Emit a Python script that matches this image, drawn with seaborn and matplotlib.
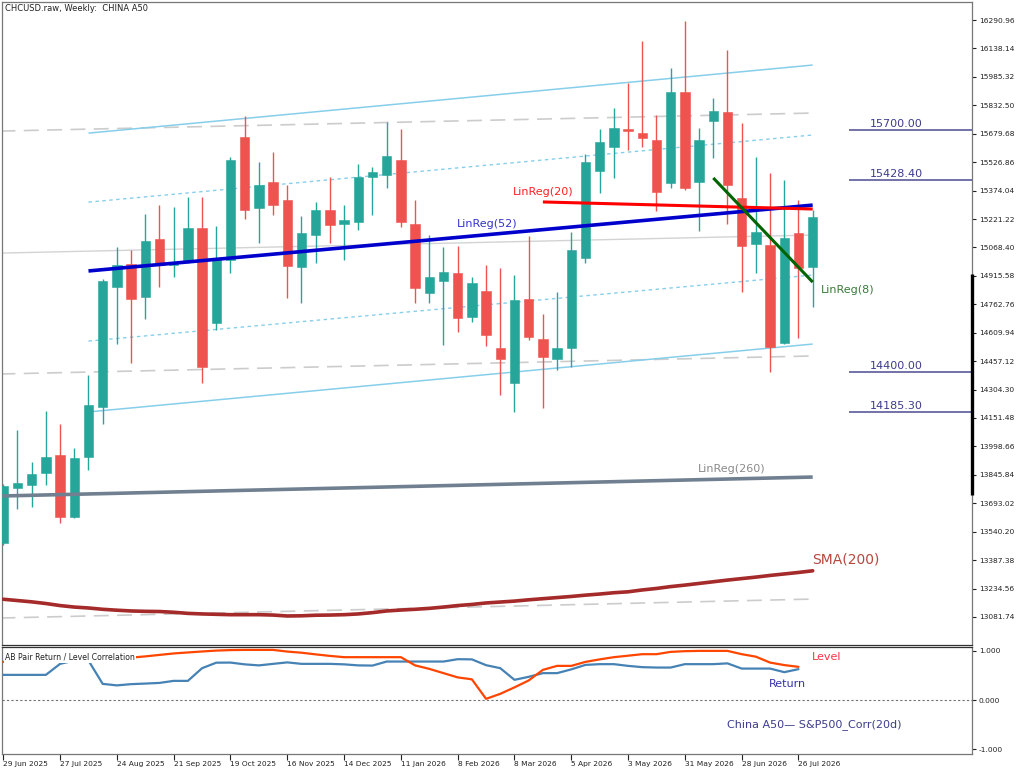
import numpy as np
import pandas as pd
import matplotlib
matplotlib.use("Agg")
import matplotlib.pyplot as plt
import matplotlib.transforms as mtransforms
import seaborn as sns

# ---------------- data ----------------
dates = pd.date_range("2025-06-29", periods=58, freq="7D")
opens = [13479, 13775, 13791, 13856, 13952, 13619, 13942, 14211, 14856, 14979,
         14802, 15114, 14974, 14995, 15173, 14662, 15001, 15662, 15280, 15420,
         15323, 14963, 15135, 15270, 15194, 15205, 15447, 15458, 15538, 15194,
         14823, 14888, 14931, 14694, 14834, 14528, 14340, 14791, 14576, 14469,
         14528, 15012, 15479, 15608, 15705, 15683, 15646, 15415, 15904, 15420,
         15748, 15796, 15334, 15087, 15081, 14555, 15146, 14963]
highs = [13797, 14087, 13915, 14189, 14119, 13990, 14382, 14899, 15071, 15055,
         15248, 15296, 15286, 15339, 15339, 15184, 15554, 15775, 15528, 15581,
         15404, 15237, 15313, 15447, 15296, 15517, 15501, 15743, 15705, 15323,
         15135, 15071, 15076, 14909, 14974, 14958, 14920, 15130, 14710, 14829,
         15151, 15571, 15705, 15818, 15952, 16178, 15780, 16033, 16285, 15710,
         15872, 16130, 15737, 15554, 15468, 15431, 15323, 15270]
lows = [13469, 13662, 13673, 13791, 13587, 13614, 13872, 14119, 14549, 14447,
        14684, 14856, 14909, 14985, 14340, 14624, 14931, 15221, 15092, 15243,
        14796, 14770, 14985, 15092, 15001, 15162, 15243, 15388, 15178, 14770,
        14770, 14544, 14614, 14667, 14538, 14275, 14184, 14571, 14205, 14409,
        14426, 14985, 15361, 15442, 15592, 15608, 15264, 15388, 15377, 15157,
        15549, 15194, 14829, 14931, 14399, 14550, 14581, 14748]
closes = [13786, 13802, 13850, 13942, 13619, 13936, 14221, 14888, 14974, 14791,
          15103, 14974, 14990, 15173, 14426, 15006, 15538, 15270, 15404, 15296,
          14969, 15146, 15270, 15189, 15216, 15447, 15474, 15560, 15205, 14850,
          14909, 14936, 14689, 14877, 14598, 14469, 14786, 14587, 14479, 14528,
          15055, 15528, 15635, 15710, 15694, 15657, 15366, 15904, 15388, 15646,
          15802, 15404, 15076, 15151, 14533, 15119, 14958, 15232]

sma200 = [13177, 13170, 13163, 13154, 13143, 13135, 13130, 13123, 13118, 13114,
          13112, 13111, 13107, 13101, 13098, 13096, 13094, 13094, 13094, 13092,
          13087, 13088, 13091, 13092, 13094, 13098, 13105, 13114, 13119, 13123,
          13128, 13135, 13143, 13149, 13157, 13162, 13167, 13174, 13180, 13186,
          13192, 13199, 13205, 13212, 13217, 13227, 13235, 13245, 13253, 13262,
          13271, 13280, 13288, 13296, 13305, 13313, 13321, 13330]

# regression lines: (start index, end index), (start value, end value)
lr52_idx = [6, 57]
lr52_val = [14942, 15296]
ch_up2_val = [15683, 16049]
ch_up1_val = [15312, 15673]
ch_dn1_val = [14565, 14920]
ch_dn2_val = [14184, 14549]
lr20_idx = [38, 57]
lr20_val = [15313, 15275]
lr8_idx = [50, 57]
lr8_val = [15442, 14882]
full_idx = [-0.2, 57]
lr260_val = [13732, 13834]
gray_mid_val = [15038, 15135]
gray_up_val = [15694, 15791]
gray_dn_val = [14388, 14485]
gray_dn3_val = [13076, 13178]

levels = [15700.00, 15428.40, 14400.00, 14185.30]

corr_level = [0.778, 0.813, 0.82, 0.826, 0.832, 0.836, 0.843, 0.849, 0.857, 0.865,
              0.89, 0.92, 0.95, 0.97, 0.99, 1.008, 1.018, 1.022, 1.022, 1.022,
              0.988, 0.965, 0.931, 0.90, 0.874, 0.874, 0.874, 0.874, 0.874, 0.707,
              0.636, 0.549, 0.463, 0.423, 0.026, 0.128, 0.26, 0.40, 0.616, 0.697,
              0.697, 0.778, 0.829, 0.874, 0.904, 0.935, 0.935, 0.982, 0.996, 1.002,
              1.002, 1.002, 0.935, 0.884, 0.764, 0.713, 0.677]
corr_return = [0.514, 0.514, 0.514, 0.514, 0.738, 0.805, 0.805, 0.331, 0.30, 0.325,
               0.337, 0.35, 0.392, 0.392, 0.65, 0.762, 0.764, 0.728, 0.707, 0.738,
               0.768, 0.738, 0.738, 0.738, 0.728, 0.707, 0.703, 0.785, 0.785, 0.785,
               0.785, 0.785, 0.833, 0.829, 0.711, 0.65, 0.413, 0.474, 0.549, 0.549,
               0.626, 0.717, 0.732, 0.732, 0.697, 0.671, 0.663, 0.663, 0.732, 0.732,
               0.732, 0.748, 0.642, 0.642, 0.642, 0.569, 0.63]

price_ticks = [16290.96 - 152.82 * k for k in range(22)]
corr_ticks = [1.0, 0.0, -1.0]

# ---------------- style ----------------
sns.set_theme(style="white")
plt.rcParams['font.family'] = ['DejaVu Sans']

W, H = 1024, 773
fig = plt.figure(figsize=(W / 100, H / 100), dpi=100)
ax = fig.add_axes([2 / W, 1 - 645 / H, 970 / W, 643 / H])
ax2 = fig.add_axes([2 / W, 1 - 754 / H, 970 / W, 107 / H])

GREEN = "#26A69A"
RED = "#EF5350"

df = pd.DataFrame({"i": np.arange(len(opens)), "open": opens, "high": highs,
                   "low": lows, "close": closes, "sma": sma200})
up = df["close"] >= df["open"]
colors = np.where(up, GREEN, RED)

# background lines first
def seg(a, idx, val, **kw):
    a.plot(idx, val, solid_capstyle="butt", **kw)

seg(ax, full_idx, gray_mid_val, color="#D3D3D3", lw=1.0, zorder=1)
for v in (gray_up_val, gray_dn_val, gray_dn3_val):
    seg(ax, full_idx, v, color="#CCCCCC", lw=1.2, ls=(0, (9, 5)), zorder=1)
for v in (ch_up2_val, ch_dn2_val):
    seg(ax, lr52_idx, v, color="#87CEEB", lw=1.1, zorder=1)
for v in (ch_up1_val, ch_dn1_val):
    seg(ax, lr52_idx, v, color="#87CEEB", lw=1.0, ls=(0, (2.5, 2.5)), zorder=1)

# candles
ax.vlines(df["i"], df["low"], df["high"], colors=colors, lw=1.0, zorder=2)
body_bottom = np.minimum(df["open"], df["close"])
body_h = np.maximum(np.abs(df["close"] - df["open"]), 8)
ax.bar(df["i"], body_h, bottom=body_bottom, width=0.66, color=colors,
       edgecolor=colors, linewidth=0.4, zorder=3)

# indicator lines
sns.lineplot(data=df, x="i", y="sma", ax=ax, color="#A52A2A", lw=2.6,
             legend=False, zorder=4)
seg(ax, full_idx, lr260_val, color="#708090", lw=2.6, zorder=4)
seg(ax, lr52_idx, lr52_val, color="#0000CD", lw=2.6, zorder=5)
seg(ax, lr20_idx, lr20_val, color="#FF0000", lw=2.2, zorder=5)
seg(ax, lr8_idx, lr8_val, color="#006400", lw=2.2, zorder=5)

x_right = 68.22
ax.hlines(levels, 59.56, x_right, colors="#5A5A9A", lw=1.2, zorder=5)
for lv in levels:
    ax.text(61.0, lv + 6, f"{lv:.2f}", color="#3C3C8C", fontsize=8,
            ha="left", va="bottom")

ax.text(31.95, 15194, "LinReg(52)", color="#3333CC", fontsize=8, va="center")
ax.text(35.9, 15366, "LinReg(20)", color="#FF2020", fontsize=8, va="center")
ax.text(57.6, 14839, "LinReg(8)", color="#3A7A3A", fontsize=8, va="center")
ax.text(48.9, 13877, "LinReg(260)", color="#8A8A8A", fontsize=8, va="center")
ax.text(56.95, 13388, "SMA(200)", color="#B5483C", fontsize=10, va="center")
ax.text(0.003, 0.9895, "CHCUSD.raw, Weekly:  CHINA A50", transform=ax.transAxes,
        fontsize=6, va="center", ha="left", color="#222222")

# thick range marker on price axis
trans = mtransforms.blended_transform_factory(ax.transAxes, ax.transData)
ax.plot([1.0, 1.0], [14925, 13737], transform=trans, color="black", lw=2.4,
        clip_on=False, solid_capstyle="butt", zorder=10)

ax.set_xlim(-0.09, x_right)
ax.set_ylim(12931, 16388)
ax.set_xticks([])
ax.set_xlabel("")
ax.set_ylabel("")
ax.yaxis.tick_right()
ax.set_yticks(price_ticks)
ax.set_yticklabels([f"{v:.2f}" for v in price_ticks])
ax.tick_params(axis="y", direction="out", length=3, width=0.8, labelsize=5.4,
               pad=2, colors="#222222", right=True, left=False)

# ---------------- correlation panel ----------------
cdf = pd.DataFrame({"i": np.arange(len(corr_level)), "level": corr_level,
                    "ret": corr_return})
ax2.axhline(0, color="#707070", lw=0.8, ls=(0, (2, 2)), zorder=1)
sns.lineplot(data=cdf, x="i", y="ret", ax=ax2, color="#4682B4", lw=1.6,
             legend=False, zorder=3)
sns.lineplot(data=cdf, x="i", y="level", ax=ax2, color="#FF4500", lw=1.6,
             legend=False, zorder=3)
ax2.text(0.003, 0.905, "AB Pair Return / Level Correlation", transform=ax2.transAxes,
         fontsize=5.6, va="center", ha="left", color="#222222", zorder=6,
         bbox=dict(facecolor="white", edgecolor="none", pad=0.8))
ax2.text(56.95, 0.88, "Level", color="#FF3344", fontsize=8, va="center")
ax2.text(53.9, 0.331, "Return", color="#3333AA", fontsize=8, va="center")
ax2.text(51.0, -0.50, "China A50\u2014 S&P500_Corr(20d)", color="#3C3C8C",
         fontsize=8, va="center")

ax2.set_xlim(-0.09, x_right)
ax2.set_ylim(-1.096, 1.081)
ax2.set_xlabel("")
ax2.set_ylabel("")
ax2.yaxis.tick_right()
ax2.set_yticks(corr_ticks)
ax2.set_yticklabels([f"{v:.3f}" for v in corr_ticks])
tick_idx = list(range(0, 57, 4))
ax2.set_xticks(tick_idx)
ax2.set_xticklabels([f"{dates[k].day} {dates[k]:%b %Y}" for k in tick_idx])
for lab in ax2.get_xticklabels():
    lab.set_ha("left")
ax2.tick_params(axis="x", direction="out", length=4, width=0.8, labelsize=5.4,
                pad=1, colors="#222222", bottom=True)
ax2.tick_params(axis="y", direction="out", length=3, width=0.8, labelsize=5.4,
                pad=2, colors="#222222", right=True, left=False)

for a in (ax, ax2):
    for s in a.spines.values():
        s.set_color("#777777")
        s.set_linewidth(0.9)
ax.spines["bottom"].set_color("#333333")
ax2.spines["top"].set_color("#333333")

fig.savefig("out.png", dpi=100)
